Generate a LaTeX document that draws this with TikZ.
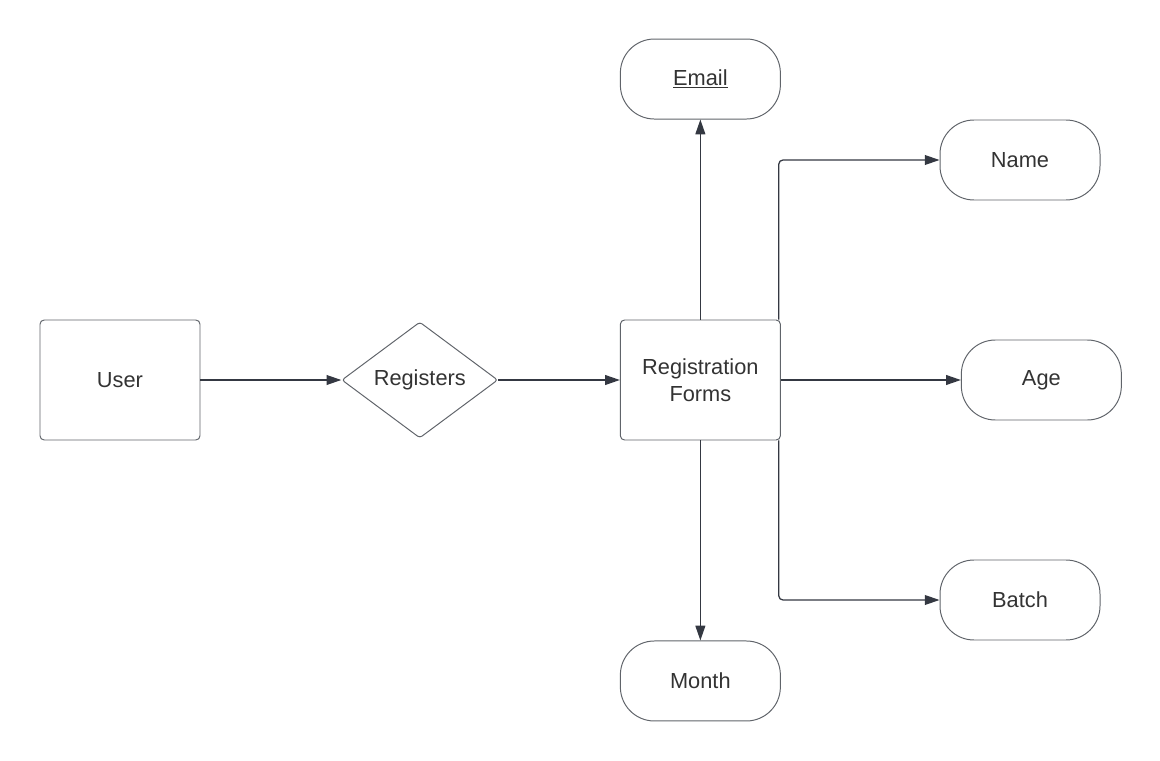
\documentclass[tikz,border=0pt]{standalone}
\usepackage{fontspec}
\setmainfont{Liberation Sans}
\usetikzlibrary{arrows.meta, positioning, shapes.geometric}

\definecolor{linecol}{RGB}{52,56,66}
\definecolor{bordercol}{RGB}{96,100,106}
\definecolor{textcol}{RGB}{51,51,51}

\begin{document}
\begin{tikzpicture}[>={Triangle[length=10.5pt, width=7pt]}, node distance=3cm,
	every node/.style={font=\fontsize{15.5}{19}\selectfont, text=textcol},
	entity/.style={draw=bordercol, line width=0.7pt, rounded corners=3pt, minimum width=4cm, minimum height=3cm, align=center},
	relation/.style={draw=bordercol, line width=0.7pt, diamond, rounded corners=2pt, minimum width=3.9cm, minimum height=2.9cm, inner sep=0pt},
	attr/.style={draw=bordercol, line width=0.7pt, rounded corners=0.85cm, minimum width=4cm, minimum height=2cm},
	link/.style={draw=linecol, line width=0.9pt, ->}]
	\useasboundingbox (0,0) rectangle (29,-19.025);

	\node[entity] (user) at (3,-9.5) {User};
	\node[relation] (reg) [right=3.52cm of user] {Registers};
	\node[entity] (forms) [right=3.04cm of reg] {Registration\\Forms};

	\node[attr] (email) [above=5cm of forms] {\underline{Email}};
	\node[attr] (month) [below=5cm of forms] {Month};
	\node[attr] (age) [right=4.5cm of forms] {Age};
	\node[attr] (name) at (25.5,-4) {Name};
	\node[attr] (batch) at (25.5,-15) {Batch};

	\draw[link] (user) -- (reg);
	\draw[link] (reg) -- (forms);
	\draw[link] (forms) -- (email);
	\draw[link] (forms) -- (month);
	\draw[link] (forms) -- (age);
	\draw[link, rounded corners=3pt] ([xshift=-1.5pt]forms.north east) |- (name);
	\draw[link, rounded corners=3pt] ([xshift=-1.5pt]forms.south east) |- (batch);

\end{tikzpicture}
\end{document}
